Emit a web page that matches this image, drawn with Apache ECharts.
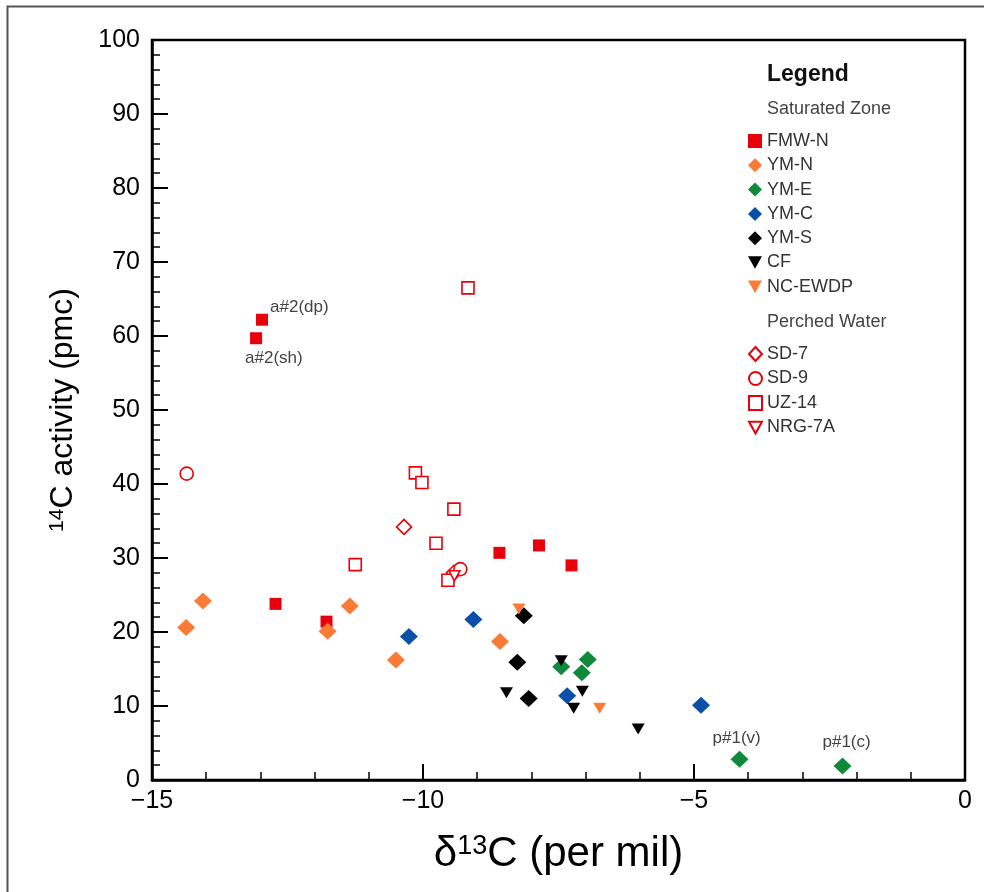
<!DOCTYPE html>
<html>
<head>
<meta charset="utf-8">
<script src="https://cdn.jsdelivr.net/npm/echarts@6/dist/echarts.min.js"></script>
<style>
  html, body { margin: 0; padding: 0; background: #fff; }
  #js-echarts { width: 984px; height: 892px; }
</style>
</head>
<body>
<div id="js-echarts"></div>
<script>
// d13C (per mil), 14C (pmc)
const fmwN = [[-12.97, 62.2], [-13.08, 59.7], [-12.72, 23.8], [-11.78, 21.4], [-8.59, 30.7], [-7.86, 31.7], [-7.26, 29.0]];
const ymN = [[-14.37, 20.6], [-14.06, 24.2], [-11.76, 20.1], [-11.35, 23.5], [-10.50, 16.2], [-8.58, 18.7]];
const ymE = [[-7.45, 15.3], [-6.96, 16.3], [-7.07, 14.5], [-4.16, 2.8], [-2.26, 1.9]];
const ymC = [[-10.26, 19.4], [-9.07, 21.7], [-7.34, 11.4], [-4.87, 10.1]];
const ymS = [[-8.14, 22.2], [-8.26, 15.9], [-8.05, 11.0]];
const cf = [[-7.45, 16.1], [-8.46, 11.8], [-7.06, 12.0], [-7.22, 9.7], [-6.03, 6.9]];
const ncEwdp = [[-8.23, 23.1], [-6.74, 9.7]];
const sd7 = [[-10.35, 34.2], [-9.43, 28.0]];
const sd9 = [[-14.36, 41.4], [-9.31, 28.5]];
const uz14 = [[-9.17, 66.5], [-10.14, 41.5], [-10.02, 40.2], [-9.43, 36.6], [-9.76, 32.0], [-11.25, 29.1], [-9.54, 27.0]];
const nrg7a = [[-9.42, 27.6]];

// point labels: [series, index, text]
const pointLabels = [['FMW-N', 0, 'a#2(dp)'], ['FMW-N', 1, 'a#2(sh)'], ['YM-E', 3, 'p#1(v)'], ['YM-E', 4, 'p#1(c)']];
const labelOffsets = { 'a#2(dp)': [-3, -12], 'a#2(sh)': [-22, 20], 'p#1(v)': [-41, -21], 'p#1(c)': [-34, -24] };

const yTicks = [0, 10, 20, 30, 40, 50, 60, 70, 80, 90, 100];
const xTicks = [-15, -10, -5, 0];

const chartDom = document.getElementById('js-echarts');
const chart = echarts.init(chartDom);

const theme = {
  red: '#e8000b',
  orange: '#f97b36',
  green: '#11893a',
  blue: '#0a50a8',
  black: '#000000',
  text: '#333333'
};
const font = 'Liberation Sans, Arial, Helvetica, sans-serif';
const downTri = 'path://M0,0 L10,0 L5,9 Z';

function makeData(name, arr) {
  return arr.map((p, i) => {
    const lab = pointLabels.find(l => l[0] === name && l[1] === i);
    if (!lab) return p;
    return {
      value: p,
      label: {
        show: true,
        formatter: lab[2],
        position: 'right',
        offset: labelOffsets[lab[2]],
        color: '#444',
        fontFamily: font,
        fontSize: 17
      }
    };
  });
}

function filled(name, arr, symbol, size, color) {
  return {
    name, type: 'scatter', data: makeData(name, arr), symbol, symbolSize: size,
    itemStyle: { color, opacity: 1 }, z: 3
  };
}
function open(name, arr, symbol, size, color) {
  return {
    name, type: 'scatter', data: makeData(name, arr), symbol, symbolSize: size,
    itemStyle: { color: '#ffffff', borderColor: color, borderWidth: 1.6, opacity: 1 }, z: 2
  };
}

const axisFont = { color: '#000', fontFamily: font, fontSize: 25 };
const legendText = { color: theme.text, fontFamily: font, fontSize: 18 };

const option = {
  animation: false,
  grid: { left: 152, right: 19, top: 40, bottom: 112, show: true, borderColor: '#000', borderWidth: 2.5 },
  xAxis: {
    type: 'value', min: -15, max: 0, interval: 5,
    name: '{d|δ}{sup|13}C (per mil)', nameLocation: 'middle', nameGap: 53,
    nameTextStyle: {
      color: '#000', fontFamily: font, fontSize: 42,
      rich: { d: { fontFamily: font, fontSize: 42, color: '#000' }, sup: { fontSize: 27, verticalAlign: 'top', color: '#000', padding: [0, 0, 15, 0], fontFamily: font } }
    },
    axisLine: { onZero: false, lineStyle: { color: '#000', width: 2.5 } },
    axisTick: { inside: true, length: 16, lineStyle: { color: '#000', width: 2 } },
    minorTick: { show: true, splitNumber: 5, length: 8, lineStyle: { color: '#000', width: 1.5 } },
    splitLine: { show: false },
    axisLabel: Object.assign({ margin: 9, formatter: v => xTicks.includes(v) ? String(v).replace('-', '\u2212') : '' }, axisFont)
  },
  yAxis: {
    type: 'value', min: 0, max: 100, interval: 10,
    name: '{sup|14}C activity (pmc)', nameLocation: 'middle', nameGap: 72,
    nameTextStyle: {
      color: '#000', fontFamily: font, fontSize: 32,
      rich: { sup: { fontSize: 21, verticalAlign: 'top', color: '#000', padding: [0, 0, 12, 0], fontFamily: font } }
    },
    axisLine: { onZero: false, lineStyle: { color: '#000', width: 2.5 } },
    axisTick: { inside: true, length: 16, lineStyle: { color: '#000', width: 2 } },
    minorTick: { show: true, splitNumber: 5, length: 8, lineStyle: { color: '#000', width: 1.5 } },
    splitLine: { show: false },
    axisLabel: Object.assign({ margin: 12, formatter: v => yTicks.includes(v) ? String(v) : '' }, axisFont)
  },
  legend: [
    {
      orient: 'vertical', left: 743, top: 127, itemWidth: 14, itemHeight: 14, itemGap: 6.3,
      textStyle: legendText,
      data: ['FMW-N', 'YM-N', 'YM-E', 'YM-C', 'YM-S', 'CF', 'NC-EWDP']
    },
    {
      orient: 'vertical', left: 743, top: 340, itemWidth: 13, itemHeight: 14, itemGap: 6.5,
      textStyle: legendText,
      data: ['SD-7', 'SD-9', 'UZ-14', 'NRG-7A']
    }
  ],
  graphic: [
    { type: 'rect', left: 5, top: 4, shape: { width: 1000, height: 900 }, style: { fill: 'none', stroke: '#555', lineWidth: 2 }, silent: true },
    { type: 'text', left: 767, top: 63, style: { text: 'Legend', fill: '#111', font: 'bold 23px ' + font } },
    { type: 'text', left: 767, top: 100, style: { text: 'Saturated Zone', fill: '#444', font: '18px ' + font } },
    { type: 'text', left: 767, top: 313, style: { text: 'Perched Water', fill: '#444', font: '18px ' + font } }
  ],
  series: [
    filled('FMW-N', fmwN, 'rect', 12, theme.red),
    filled('YM-N', ymN, 'diamond', [18, 17], theme.orange),
    filled('YM-E', ymE, 'diamond', [18, 17], theme.green),
    filled('YM-C', ymC, 'diamond', [18, 17], theme.blue),
    filled('YM-S', ymS, 'diamond', [18, 17], theme.black),
    filled('CF', cf, downTri, [13, 11], theme.black),
    filled('NC-EWDP', ncEwdp, downTri, [13, 11], theme.orange),
    open('SD-7', sd7, 'diamond', [15, 15], theme.red),
    open('SD-9', sd9, 'circle', 13, theme.red),
    open('UZ-14', uz14, 'rect', 12, theme.red),
    open('NRG-7A', nrg7a, downTri, [11, 10], theme.red)
  ]
};

chart.setOption(option);
</script>
</body>
</html>
